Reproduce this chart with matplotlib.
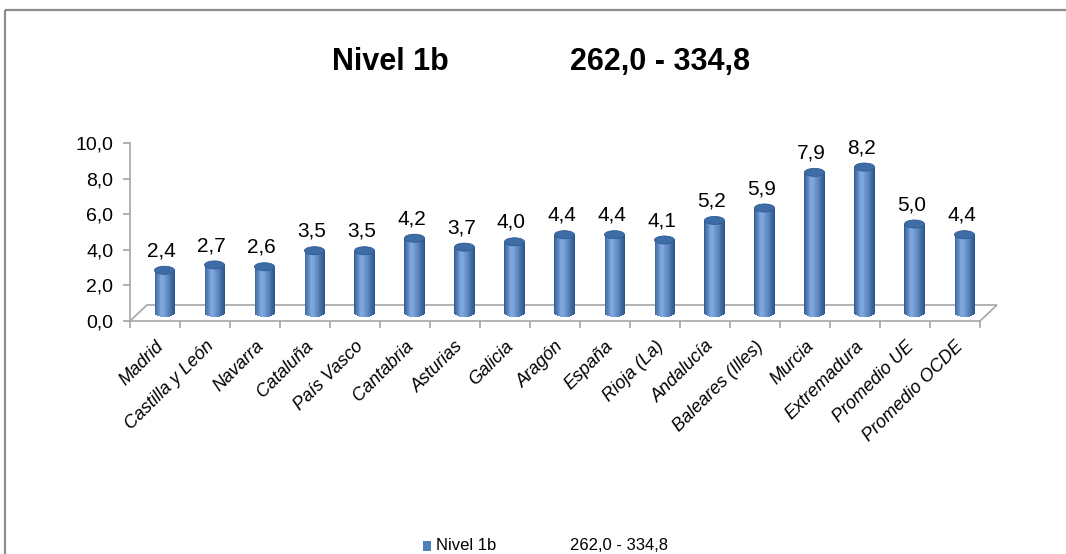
import numpy as np
import matplotlib
matplotlib.use("Agg")
import matplotlib.pyplot as plt
from matplotlib.patches import Ellipse, Rectangle, Polygon
from matplotlib.lines import Line2D
from matplotlib.colors import to_rgb

plt.rcParams['font.family'] = ['Liberation Sans', 'DejaVu Sans']

regiones = ['Madrid', 'Castilla y León', 'Navarra', 'Cataluña', 'País Vasco',
            'Cantabria', 'Asturias', 'Galicia', 'Aragón', 'España', 'Rioja (La)',
            'Andalucía', 'Baleares (Illes)', 'Murcia', 'Extremadura',
            'Promedio UE', 'Promedio OCDE']
valores = [2.4, 2.7, 2.6, 3.5, 3.5, 4.2, 3.7, 4.0, 4.4, 4.4, 4.1,
           5.2, 5.9, 7.9, 8.2, 5.0, 4.4]
yticks = [0, 2, 4, 6, 8, 10]

serie = 'Nivel 1b'
rango = '262,0 - 334,8'

def coma(v):
    return f"{v:.1f}".replace('.', ',')

W, H = 1066, 554
fig = plt.figure(figsize=(W / 100, H / 100), dpi=100)

# marco del grafico (solo se ven arriba e izquierda)
borde = dict(transform=fig.transFigure, color='#8c8c8c', linewidth=1.6,
             solid_capstyle='butt')
fig.add_artist(Line2D([5 / W, 1.02], [1 - 10 / H, 1 - 10 / H], **borde))
fig.add_artist(Line2D([5 / W, 5 / W], [-0.02, 1 - 10 / H], **borde))

ax = fig.add_axes([130 / W, (H - 321) / H, 850 / W, 178 / H])
n = len(regiones)
ax.set_xlim(-0.5, n - 0.5)
ax.set_ylim(0, 10)

# profundidad del suelo 3D
dx, dy = 0.34, 0.9
gris = '#a6a6a6'
suelo = Polygon([(-0.5, 0), (n - 0.5, 0), (n - 0.5 + dx, dy), (-0.5 + dx, dy)],
                closed=True, facecolor='white', edgecolor=gris, linewidth=1.2,
                clip_on=False, zorder=1)
ax.add_patch(suelo)

for s in ['top', 'right', 'bottom']:
    ax.spines[s].set_visible(False)
ax.spines['left'].set_color(gris)
ax.spines['left'].set_linewidth(1.2)

ax.set_yticks(yticks)
ax.set_yticklabels([coma(t) for t in yticks], fontsize=14)
ax.tick_params(axis='y', color=gris, length=5, width=1.2, pad=7)

ax.set_xticks(np.arange(n + 1) - 0.5, minor=True)
ax.tick_params(axis='x', which='minor', color=gris, length=5, width=1.2)
ax.set_xticks(np.arange(n))
ax.tick_params(axis='x', which='major', length=0, pad=12)
ax.set_xticklabels(regiones, rotation=45, ha='right', rotation_mode='anchor',
                   fontsize=13, style='italic')

# cilindros
ancho = 0.40
alto_elipse = 0.45
oscuro = np.array(to_rgb('#28528a'))
claro = np.array(to_rgb('#7fa9df'))
tiras = 24
for i, v in enumerate(valores):
    cx = i + dx / 2 + 0.02
    base = dy / 2
    top = v + dy / 2
    for k in range(tiras):
        t = (k + 0.5) / tiras
        if t < 0.35:
            c = oscuro + (claro - oscuro) * (t / 0.35) ** 0.7
        else:
            c = claro + (oscuro - claro) * ((t - 0.35) / 0.65) ** 1.3
        x0 = cx - ancho / 2 + k * ancho / tiras
        # parte inferior redondeada
        xm = x0 + ancho / tiras / 2
        u = (xm - cx) / (ancho / 2)
        curva = alto_elipse / 2 * np.sqrt(max(0.0, 1 - u * u))
        ax.add_patch(Rectangle((x0, base - curva), ancho / tiras * 1.05, top - base + curva,
                               facecolor=tuple(np.clip(c, 0, 1)), edgecolor='none',
                               zorder=4, clip_on=False))
    ax.add_patch(Ellipse((cx, top), ancho, alto_elipse, facecolor='#3d6ca6',
                         edgecolor='#2f5b92', linewidth=0.6, zorder=5, clip_on=False))
    ax.text(cx - 0.06, top + 0.55, coma(v), ha='center', va='bottom', fontsize=15,
            zorder=6)

# titulo
fig.text(390 / W, 1 - 62 / H, serie, ha='center', va='center', fontsize=22,
         fontweight='bold')
fig.text(660 / W, 1 - 62 / H, rango, ha='center', va='center', fontsize=22,
         fontweight='bold')

# leyenda
fig.patches.append(Rectangle((423 / W, 1 - 551 / H), 8 / W, 10 / H,
                             transform=fig.transFigure, facecolor='#4f81bd',
                             edgecolor='none'))
fig.text(436 / W, 1 - 546 / H, serie, ha='left', va='center', fontsize=12)
fig.text(570 / W, 1 - 546 / H, rango, ha='left', va='center', fontsize=12)

fig.savefig('out.png', dpi=100)
